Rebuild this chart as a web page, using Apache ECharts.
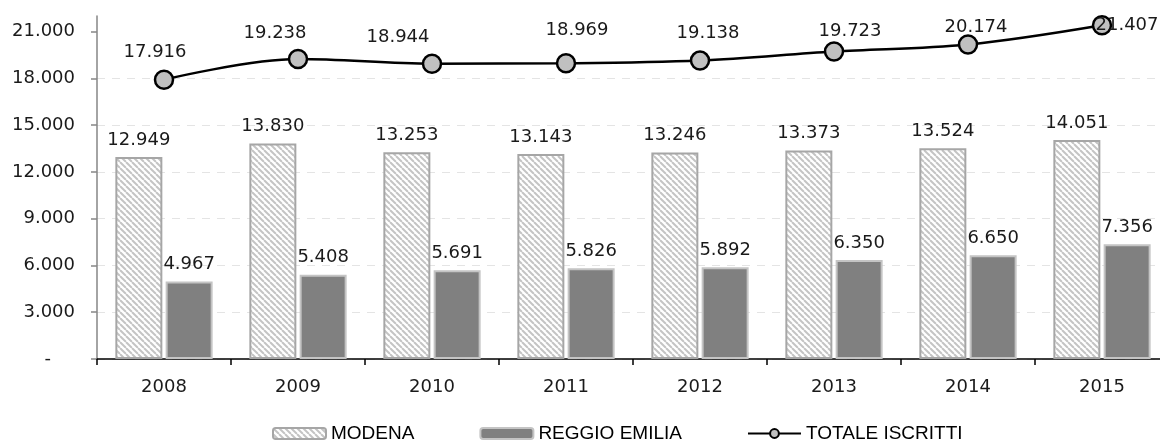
<!DOCTYPE html>
<html>
<head>
<meta charset="utf-8">
<script src="https://cdn.jsdelivr.net/npm/echarts@6/dist/echarts.min.js"></script>
<style>html,body{margin:0;padding:0;background:#fff;overflow:hidden;width:1160px;height:441px;}#c{width:1170px;height:441px;}</style>
</head>
<body>
<div id="c"></div>
<script>
const years = ['2008', '2009', '2010', '2011', '2012', '2013', '2014', '2015'];
const modena = [12949, 13830, 13253, 13143, 13246, 13373, 13524, 14051];
const reggio = [4967, 5408, 5691, 5826, 5892, 6350, 6650, 7356];
const totale = [17916, 19238, 18944, 18969, 19138, 19723, 20174, 21407];
const yTicks = [0, 3000, 6000, 9000, 12000, 15000, 18000, 21000];
const seriesNames = ['MODENA', 'REGGIO EMILIA', 'TOTALE ISCRITTI'];

// label placement for the line labels (style, not data)
const lineLabelOffsets = [[-9, -27], [-23, -26], [-34, -26], [11, -33], [8, -27], [16, -20], [8, -17], [25, 0]];

function fmt(v) {
  return String(Math.round(v)).replace(/\B(?=(\d{3})+(?!\d))/g, '.');
}

function hatch() {
  const s = 6;
  const cv = document.createElement('canvas');
  cv.width = s; cv.height = s;
  const ctx = cv.getContext('2d');
  ctx.fillStyle = '#ffffff';
  ctx.fillRect(0, 0, s, s);
  ctx.strokeStyle = '#c4c4c4';
  ctx.lineWidth = 2;
  for (const k of [-s, 0, s]) {
    ctx.beginPath();
    ctx.moveTo(k, 0);
    ctx.lineTo(k + s, s);
    ctx.stroke();
  }
  return cv;
}

const FONT = 'DejaVu Sans';
const chart = echarts.init(document.getElementById('c'), null, { renderer: 'canvas' });

const lineData = totale.map((v, i) => ({
  value: v,
  label: { offset: lineLabelOffsets[i] }
}));

chart.setOption({
  animation: false,
  backgroundColor: '#ffffff',
  grid: { left: 97, right: 1, top: 16, bottom: 82, containLabel: false },
  legend: {
    data: seriesNames,
    left: 267,
    top: 419,
    itemWidth: 53,
    itemHeight: 11,
    itemGap: 65,
    textStyle: { fontFamily: 'Liberation Sans', fontSize: 19, color: '#000' }
  },
  xAxis: {
    type: 'category',
    data: years,
    boundaryGap: true,
    axisLine: { lineStyle: { color: '#000', width: 1.5 } },
    axisTick: { show: true, length: 6, lineStyle: { color: '#000', width: 1.5 } },
    axisLabel: { fontFamily: FONT, fontSize: 18, color: '#1a1a1a', margin: 19 },
    splitLine: { show: false }
  },
  yAxis: {
    type: 'value',
    min: 0,
    max: 22000,
    interval: 3000,
    axisLine: { show: true, lineStyle: { color: '#868686', width: 1.5 } },
    axisTick: { show: true, length: 6, customValues: yTicks, lineStyle: { color: '#868686', width: 1.5 } },
    axisLabel: {
      customValues: yTicks,
      fontFamily: FONT, fontSize: 18, color: '#1a1a1a', margin: 22,
      formatter: v => v === 0 ? '{d|-}' : fmt(v),
      rich: { d: { fontFamily: FONT, fontSize: 18, color: '#1a1a1a', padding: [0, 24, 0, 0] } }
    },
    splitLine: { show: true, showMaxLine: false, lineStyle: { color: '#e4e4e4', type: [8, 7], width: 1 } }
  },
  series: [
    {
      name: seriesNames[0],
      type: 'bar',
      data: modena,
      barWidth: 47,
      barGap: '7%',
      itemStyle: { color: { image: hatch(), repeat: 'repeat' }, borderColor: '#a6a6a6', borderWidth: 2 },
      label: { show: true, position: 'top', distance: 8, fontFamily: FONT, fontSize: 18, color: '#1a1a1a', formatter: p => fmt(p.value) }
    },
    {
      name: seriesNames[1],
      type: 'bar',
      data: reggio,
      barWidth: 47,
      itemStyle: { color: '#808080', borderColor: '#c4c4c4', borderWidth: 2 },
      label: { show: true, position: 'top', distance: 8, fontFamily: FONT, fontSize: 18, color: '#1a1a1a', formatter: p => fmt(p.value) }
    },
    {
      name: seriesNames[2],
      type: 'line',
      data: lineData,
      smooth: 0.35,
      symbol: 'circle',
      symbolSize: 18,
      z: 5,
      lineStyle: { color: '#000', width: 2.5 },
      itemStyle: { color: '#c0c0c0', borderColor: '#000', borderWidth: 2.5 },
      label: { show: true, position: 'inside', fontFamily: FONT, fontSize: 18, color: '#1a1a1a', formatter: p => fmt(p.value) }
    }
  ]
});
</script>
</body>
</html>
